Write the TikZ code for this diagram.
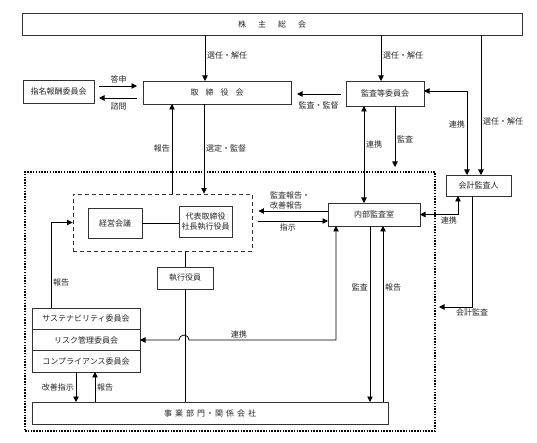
\documentclass[tikz,border=0pt]{standalone}
\usepackage{fontspec}
\setmainfont{Noto Sans CJK JP}
\usetikzlibrary{arrows.meta,positioning}
\tikzset{
	box/.style={draw=black!80, line width=0.9pt, fill=white, text=black!85, inner sep=0pt, outer sep=0pt, align=center, font=\fontsize{8pt}{10pt}\selectfont},
	lbl/.style={inner sep=1.8pt, text=black!85, font=\fontsize{8pt}{9.5pt}\selectfont},
	arr/.style={-{Triangle[width=5.5pt,length=5.5pt]}, line width=0.8pt},
	biarr/.style={{Triangle[width=5.5pt,length=5.5pt]}-{Triangle[width=5.5pt,length=5.5pt]}, line width=0.8pt},
	grpbox/.style={draw=black, line width=1.6pt, dash pattern=on 1.5pt off 1.3pt},
	execbox/.style={draw=black!80, line width=0.9pt, dash pattern=on 4pt off 3pt}
}

\begin{document}
\begin{tikzpicture}[x=1pt, y=-1pt]
		%%%%% START %%%%%
		\useasboundingbox (0,0) rectangle (537,443);
		
		\node[grpbox, minimum width=410pt, minimum height=259pt] (grp) at (230,301.5) {};
		\node[execbox, minimum width=179pt, minimum height=57pt] (exec) at (162.5,222.5) {};
		
		\node[box, minimum width=500pt, minimum height=22pt] (soukai) at (272,24) {株\hspace{12pt}主\hspace{12pt}総\hspace{12pt}会};
		\node[box, minimum width=148pt, minimum height=23pt] (tori) at (217,92.5) {取\hspace{7pt}締\hspace{7pt}役\hspace{7pt}会};
		\node[box, minimum width=71pt, minimum height=23pt] (shimei) at (58.5,91.5) {指名報酬委員会};
		\node[box, minimum width=78pt, minimum height=25pt] (kansa) at (385,93.5) {監査等委員会};
		\node[box, minimum width=65pt, minimum height=21pt] (kaikei) at (478.5,185.5) {会計監査人};
		\node[box, minimum width=92pt, minimum height=23pt] (naibu) at (374,214.5) {内部監査室};
		\node[box, minimum width=54pt, minimum height=30pt] (keiei) at (115,223) {経営会議};
		\node[box, minimum width=53pt, minimum height=31pt] (ceo) at (205.5,221.5) {代表取締役\\社長執行役員};
		\node[box, minimum width=56pt, minimum height=22pt] (shikko) at (185,278) {執行役員};
		\node[box, minimum width=108pt, minimum height=21.33pt] (sust) at (86,318.67) {サステナビリティ委員会};
		\node[box, minimum width=108pt, minimum height=21.33pt, below=0pt of sust] (risk) {リスク管理委員会};
		\node[box, minimum width=108pt, minimum height=21.33pt, below=0pt of risk] (comp) {コンプライアンス委員会};
		\node[box, minimum width=356pt, minimum height=22pt] (jigyo) at (210,413) {事\hspace{3pt}業\hspace{3pt}部\hspace{3pt}門\hspace{1pt}・\hspace{1pt}関\hspace{3pt}係\hspace{3pt}会\hspace{3pt}社};
		
		\coordinate (audtip) at (395,167);
		\coordinate (kktip) at (439,307);
		
		% shareholders
		\draw[arr] ([xshift=-12pt]tori.north |- soukai.south) -- node[lbl, right, pos=0.45] {選任・解任} ([xshift=-12pt]tori.north);
		\draw[arr] ([xshift=-4pt]kansa.north |- soukai.south) -- node[lbl, right, pos=0.45] {選任・解任} ([xshift=-4pt]kansa.north);
		\draw[arr] ([xshift=2.5pt]kaikei.north |- soukai.south) -- node[lbl, right, pos=0.62] {選任・解任} ([xshift=2.5pt]kaikei.north);
		
		% board
		\draw[arr, shorten <=5pt, shorten >=6pt] ([yshift=5.5pt]shimei.east) -- node[lbl, above, yshift=1pt] {答申} ([yshift=5.5pt]shimei.east -| tori.west);
		\draw[arr, shorten <=6pt, shorten >=5pt] ([yshift=-6.5pt]shimei.east -| tori.west) -- node[lbl, below, yshift=-3pt] {諮問} ([yshift=-6.5pt]shimei.east);
		\draw[arr, shorten <=5pt, shorten >=6pt] ([yshift=-0.5pt]kansa.west) -- node[lbl, below, yshift=-6pt] {監査・監督} ([yshift=-0.5pt]kansa.west -| tori.east);
		\draw[biarr] ([yshift=2.5pt]kansa.east) -| node[lbl, left, pos=0.7] {連携} ([xshift=-11.5pt]kaikei.north);
		\draw[arr] ([xshift=-45pt]tori.south |- exec.north) -- node[lbl, left] {報告} ([xshift=-45pt]tori.south);
		\draw[arr] ([xshift=-13pt]tori.south) -- node[lbl, right] {選定・監督} ([xshift=-13pt]tori.south |- exec.north);
		
		% audit committee
		\draw[biarr] ([xshift=-21pt]kansa.south) -- node[lbl, right, pos=0.4] {連携} ([xshift=-21pt]kansa.south |- naibu.north);
		\draw[arr] ([xshift=10pt]kansa.south) -- node[lbl, right, pos=0.55] {監査} (audtip);
		
		% execution
		\draw[line width=0.8pt] (keiei.east) -- (keiei.east -| ceo.west);
		\draw[line width=0.8pt] (exec.south -| shikko.north) -- (shikko.north);
		\draw[line width=0.8pt] (shikko.south) -- (shikko.south |- jigyo.north);
		
		% internal audit
		\draw[arr, shorten >=6pt] ([yshift=3.5pt]naibu.west) -- node[lbl, above, align=left, pos=0.5] {監査報告・\\改善報告} ([yshift=3.5pt]naibu.west -| exec.east);
		\draw[arr, shorten <=6pt] ([yshift=-6.5pt]naibu.west -| exec.east) -- node[lbl, below, pos=0.47, yshift=-1pt] {指示} ([yshift=-6.5pt]naibu.west);
		\draw[biarr] ([xshift=-20.5pt]kaikei.south) |- node[lbl, below, pos=0.62] {連携} (naibu.east);
		\draw[arr] ([xshift=-6.5pt]kaikei.south) |- node[lbl, below, pos=0.5] {会計監査} (kktip);
		\draw[arr] ([xshift=-4pt]naibu.south) -- node[lbl, left, pos=0.35] {監査} ([xshift=-4pt]naibu.south |- jigyo.north);
		\draw[arr] ([xshift=9pt]naibu.south |- jigyo.north) -- node[lbl, right, pos=0.65] {報告} ([xshift=9pt]naibu.south);
		\draw[biarr] ([xshift=-38pt]naibu.south) |- node[lbl, above, pos=0.83] {連携} (189,340) arc[start angle=0, end angle=180, radius=5pt] -- (risk.east);
		
		% committees
		\draw[arr] ([xshift=-35pt]sust.north) |- node[lbl, right, pos=0.15] {報告} (exec.west);
		\draw[arr] ([xshift=-10pt]comp.south) -- node[lbl, left] {改善指示} ([xshift=-10pt]comp.south |- jigyo.north);
		\draw[arr] ([xshift=9pt]comp.south |- jigyo.north) -- node[lbl, right] {報告} ([xshift=9pt]comp.south);
		
		%%%%% END %%%%%
	\end{tikzpicture}
\end{document}
